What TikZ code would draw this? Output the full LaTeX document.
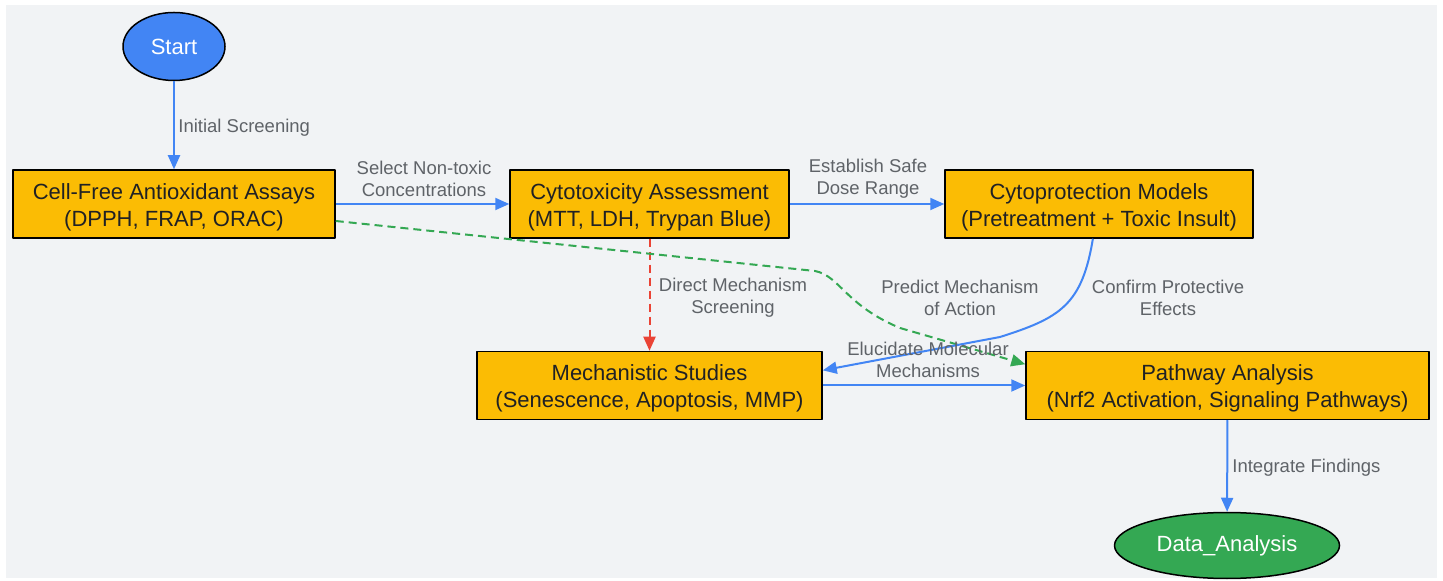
\documentclass[tikz,border=0pt]{standalone}
\usepackage{fontspec}
\setmainfont{Liberation Sans}
\usetikzlibrary{shapes.geometric,arrows.meta}
\definecolor{bgpanel}{HTML}{F1F3F5}
\definecolor{flowblue}{HTML}{4285F4}
\definecolor{boxyellow}{HTML}{FBBC04}
\definecolor{flowgreen}{HTML}{34A853}
\definecolor{flowred}{HTML}{EA4335}
\definecolor{labelgray}{HTML}{5F6368}
\definecolor{boxtext}{HTML}{202124}
\tikzset{
  stagebox/.style={draw=black, line width=0.75pt, fill=boxyellow, text=boxtext, align=center,
    minimum height=34pt, inner sep=0pt, font=\fontsize{11}{13.5}\selectfont,
    text height=24.4pt, text depth=2.3pt},
  terminal/.style={ellipse, draw=black, line width=0.75pt, text=white, inner sep=0pt,
    font=\fontsize{11}{13.5}\selectfont},
  flow/.style={line width=1pt, -{Triangle[length=7pt,width=6pt]}},
  dashflow/.style={flow, dash pattern=on 4pt off 2.5pt},
  edgelabel/.style={text=labelgray, align=center, font=\fontsize{9.25}{11}\selectfont, inner sep=0pt},
}
\begin{document}
\begin{tikzpicture}[x=0.5pt,y=-0.5pt,line join=round]
	% background
	\fill[white] (0,0) rectangle (1443,581);
	\fill[bgpanel] (6,5) rectangle (1437,578);
	\useasboundingbox (0,0) rectangle (1443,581);
	% stages
	\node[terminal, fill=flowblue, minimum width=51pt, minimum height=34pt] (start) at (174,46.5) {Start};
	\node[stagebox, minimum width=161pt] (cellfree) at (174,204) {Cell-Free Antioxidant Assays\\(DPPH, FRAP, ORAC)};
	\node[stagebox, minimum width=139.5pt] (cytotox) at (649.5,204) {Cytotoxicity Assessment\\(MTT, LDH, Trypan Blue)};
	\node[stagebox, minimum width=154pt] (cytoprot) at (1099,204) {Cytoprotection Models\\(Pretreatment + Toxic Insult)};
	\node[stagebox, minimum width=172.5pt] (mechan) at (649.5,385.5) {Mechanistic Studies\\(Senescence, Apoptosis, MMP)};
	\node[stagebox, minimum width=201.5pt] (pathway) at (1227.5,385.5) {Pathway Analysis\\(Nrf2 Activation, Signaling Pathways)};
	\node[terminal, fill=flowgreen, minimum width=112.5pt, minimum height=33pt] (data) at (1227,545.5) {Data\_Analysis};
	% connectors
	\draw[flow, flowblue] (start) -- (cellfree);
	\draw[flow, flowblue] (cellfree) -- (cytotox);
	\draw[flow, flowblue] (cytotox) -- (cytoprot);
	\draw[dashflow, flowred] (cytotox) -- (mechan);
	\draw[dashflow, flowgreen] (cellfree.-6.4) -- (815,271) .. controls (840,276) and (845,305) .. (900,328) -- (pathway.174.8);
	\draw[flow, flowblue] (cytoprot.-100) .. controls (1082,305) and (1060,318) .. (1000,337) -- (mechan.5.5);
	\draw[flow, flowblue] (mechan) -- (pathway);
	\draw[flow, flowblue] (pathway) -- (data);
	% labels
	\node[edgelabel, anchor=west] (lscreen) at (178,128) {Initial Screening};
	\node[edgelabel] (lselect) at (424,179) {Select Non-toxic\\Concentrations};
	\node[edgelabel] (ldose) at (868,179) {Establish Safe\\Dose Range};
	\node[edgelabel] (ldirect) at (733,298) {Direct Mechanism\\Screening};
	\node[edgelabel] (lpredict) at (960,298) {Predict Mechanism\\of Action};
	\node[edgelabel] (lconfirm) at (1168,298) {Confirm Protective\\Effects};
	\node[edgelabel] (lelucid) at (928,360) {Elucidate Molecular\\Mechanisms};
	\node[edgelabel, anchor=west] (lintegr) at (1232,468) {Integrate Findings};
\end{tikzpicture}
\end{document}
